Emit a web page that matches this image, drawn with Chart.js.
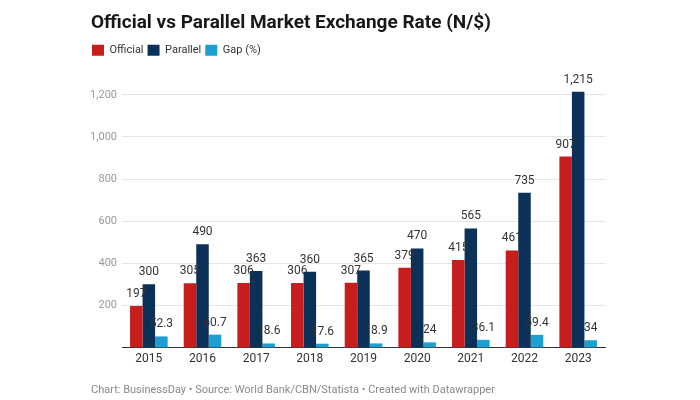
<!DOCTYPE html>
<html>
<head>
<meta charset="utf-8">
<style>
  html, body { margin: 0; padding: 0; background: #fff; }
  #wrap { width: 700px; height: 400px; }
</style>
<script src="https://cdn.jsdelivr.net/npm/chart.js@4"></script>
</head>
<body>
<div id="wrap"><canvas id="rateChart" width="700" height="400"></canvas></div>
<script>
const years = ['2015', '2016', '2017', '2018', '2019', '2020', '2021', '2022', '2023'];
const official = [197, 305, 306, 306, 307, 379, 415, 461, 907];
const parallel = [300, 490, 363, 360, 365, 470, 565, 735, 1215];
const gap = [52.3, 60.7, 18.6, 17.6, 18.9, 24, 36.1, 59.4, 34];
const yTicks = [200, 400, 600, 800, 1000, 1200];

// numbers above every bar
const valueLabels = {
    id: 'valueLabels',
    afterLayout(chart) {
        // pull the legend flush with the title
        chart.legend.left -= 3;
        chart.legend.right -= 3;
    },
    afterDatasetsDraw(chart) {
        const ctx = chart.ctx;
        ctx.save();
        ctx.font = '12px Roboto';
        ctx.fillStyle = '#333';
        ctx.textAlign = 'center';
        ctx.textBaseline = 'bottom';
        chart.data.datasets.forEach((ds, i) => {
            chart.getDatasetMeta(i).data.forEach((bar, j) => {
                ctx.fillText(ds.data[j].toLocaleString('en-US'), bar.x, bar.y - 6);
            });
        });
        ctx.restore();
    }
};

new Chart(document.getElementById('rateChart').getContext('2d'), {
    type: 'bar',
    data: {
        labels: years,
        datasets: [
            { label: 'Official', data: official, backgroundColor: '#c71e1d' },
            { label: 'Parallel', data: parallel, backgroundColor: '#0b3158' },
            { label: 'Gap (%)', data: gap, backgroundColor: '#1d9fd2' }
        ]
    },
    options: {
        responsive: false,
        animation: false,
        layout: { padding: { left: 91, right: 95, top: 8, bottom: 3 } },
        datasets: {
            bar: { categoryPercentage: 0.7, barPercentage: 1.0, clip: false }
        },
        scales: {
            x: {
                grid: { display: false, drawTicks: false },
                border: { display: true, color: '#333', width: 1 },
                ticks: { color: '#333', font: { family: 'Roboto', size: 12 }, padding: 4 }
            },
            y: {
                min: 0,
                max: 1338,
                afterBuildTicks: (axis) => {
                    axis.ticks = yTicks.map(v => ({ value: v }));
                },
                afterFit: (axis) => { axis.width = 31; },
                grid: { color: '#e5e5e5', drawTicks: false },
                border: { display: false },
                ticks: {
                    color: '#9a9a9a',
                    font: { family: 'Roboto', size: 11 },
                    padding: 5,
                    callback: (v) => v.toLocaleString('en-US')
                }
            }
        },
        plugins: {
            title: {
                display: true,
                text: 'Official vs Parallel Market Exchange Rate (N/$)',
                align: 'start',
                color: '#181818',
                font: { family: 'Roboto', size: 19, weight: 'bold' },
                padding: { top: 4, bottom: 6 }
            },
            legend: {
                align: 'start',
                labels: {
                    boxWidth: 12,
                    boxHeight: 11,
                    padding: 4,
                    color: '#333',
                    font: { family: 'Roboto', size: 11 }
                }
            },
            subtitle: {
                display: true,
                position: 'bottom',
                align: 'start',
                text: 'Chart: BusinessDay \u2022 Source: World Bank/CBN/Statista \u2022 Created with Datawrapper',
                color: '#8a8a8a',
                font: { family: 'Roboto', size: 11 },
                padding: { top: 14, bottom: 0 }
            },
            tooltip: { enabled: false }
        }
    },
    plugins: [valueLabels]
});
</script>
</body>
</html>
